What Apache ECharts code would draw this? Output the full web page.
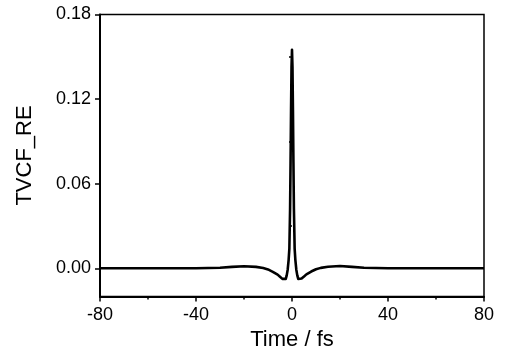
<!DOCTYPE html>
<html>
<head>
<meta charset="utf-8">
<script src="https://cdn.jsdelivr.net/npm/echarts@6/dist/echarts.min.js"></script>
<style>
  html, body { margin: 0; padding: 0; background: #ffffff; }
  #chart { width: 522px; height: 354px; }
</style>
</head>
<body>
<div id="chart"></div>
<script>
const timeFs = [-80, -60, -40, -30, -25, -20, -15, -12, -10, -8, -6, -5, -4, -3.2, -2.6, -2.2, -1.8, -1.4, -1.1, -0.8, -0.6, -0.4, -0.2, 0,
  0.2, 0.4, 0.6, 0.8, 1.1, 1.4, 1.8, 2.2, 2.6, 3.0, 4, 5, 6, 8, 10, 12, 15, 20, 25, 30, 40, 60, 80];
const tvcfRe = [0, 0, 0, 0.0004, 0.0010, 0.0015, 0.0010, 0.0002, -0.0008, -0.0025, -0.0045, -0.006, -0.0075, -0.0082, -0.0075, -0.005, -0.001, 0.006, 0.014, 0.042, 0.075, 0.112, 0.143, 0.155,
  0.143, 0.112, 0.075, 0.042, 0.014, 0.006, -0.001, -0.005, -0.0075, -0.0082, -0.0072, -0.0058, -0.0043, -0.0023, -0.0007, 0.0003, 0.0011, 0.0016, 0.0010, 0.0004, 0, 0, 0];
const yTicks = [0, 0.06, 0.12, 0.18];
const yMinorTicks = [0.03, 0.09, 0.15];

const font = 'Liberation Sans, Arial, sans-serif';
const chart = echarts.init(document.getElementById('chart'));

const option = {
  animation: false,
  backgroundColor: '#ffffff',
  grid: {
    left: 100,
    right: 38,
    top: 14.5,
    bottom: 57.5,
    outerBoundsMode: 'none',
    containLabel: false,
    show: true,
    borderColor: '#000',
    borderWidth: 1.5,
  },
  xAxis: {
    type: 'value',
    min: -80,
    max: 80,
    interval: 40,
    name: 'Time / fs',
    nameLocation: 'middle',
    nameGap: 30,
    nameTextStyle: { fontFamily: font, fontSize: 22, color: '#000' },
    axisLine: { onZero: false, lineStyle: { color: '#000', width: 2 } },
    axisTick: { inside: false, length: 5, lineStyle: { color: '#000', width: 1.5 } },
    minorTick: { show: true, splitNumber: 2, length: 3, lineStyle: { color: '#000', width: 1.5 } },
    axisLabel: { fontFamily: font, fontSize: 18, color: '#000', margin: 10 },
    splitLine: { show: false },
  },
  yAxis: [
    {
      type: 'value',
      min: -0.02,
      max: 0.18,
      name: 'TVCF_RE',
      nameLocation: 'middle',
      nameGap: 64,
      nameTextStyle: { fontFamily: font, fontSize: 22, color: '#000' },
      axisLine: { onZero: false, lineStyle: { color: '#000', width: 2 } },
      axisTick: { length: 5, customValues: yTicks, lineStyle: { color: '#000', width: 1.5 } },
      axisLabel: {
        fontFamily: font, fontSize: 18, color: '#000', margin: 9,
        customValues: yTicks,
        formatter: (v) => v.toFixed(2),
      },
      splitLine: { show: false },
    },
    {
      type: 'value',
      min: -0.02,
      max: 0.18,
      position: 'left',
      axisLine: { show: false },
      axisTick: { length: 3, customValues: yMinorTicks, lineStyle: { color: '#000', width: 1.5 } },
      axisLabel: { show: false },
      splitLine: { show: false },
    },
  ],
  series: [
    {
      type: 'line',
      data: timeFs.map((t, i) => [t, tvcfRe[i]]),
      showSymbol: false,
      smooth: false,
      lineStyle: { color: '#000', width: 2.6, join: 'round' },
    },
  ],
};

chart.setOption(option);
</script>
</body>
</html>
